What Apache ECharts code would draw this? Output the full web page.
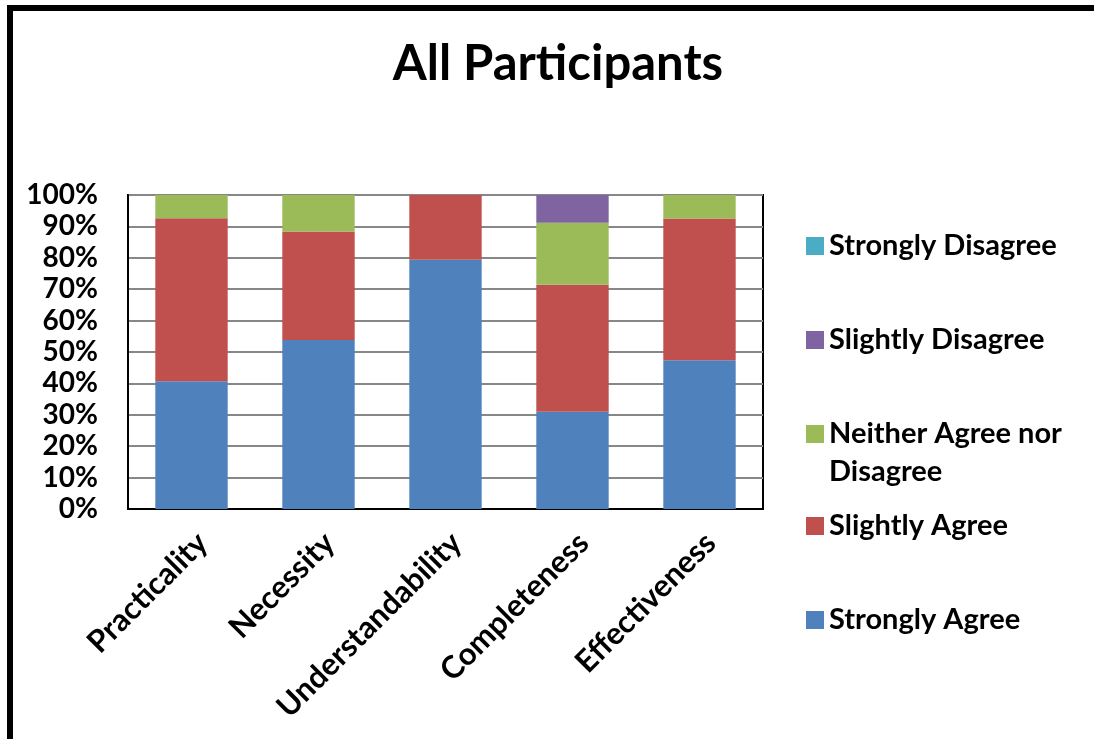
<!DOCTYPE html>
<html>
<head>
<meta charset="utf-8">
<script src="https://cdn.jsdelivr.net/npm/echarts@6/dist/echarts.min.js"></script>
<style>
  html, body { margin: 0; padding: 0; background: #fff; }
  #chart { width: 1094px; height: 739px; }
</style>
</head>
<body>
<div id="chart"></div>
<script>
// Survey responses, percent of participants per criterion
const categories = ['Practicality', 'Necessity', 'Understandability', 'Completeness', 'Effectiveness'];
const stronglyAgree = [40.7, 53.8, 79.4, 31.0, 47.4];
const slightlyAgree = [51.9, 34.6, 20.6, 40.4, 45.1];
const neitherAgreeNorDisagree = [7.4, 11.6, 0, 19.8, 7.5];
const slightlyDisagree = [0, 0, 0, 8.8, 0];
const stronglyDisagree = [0, 0, 0, 0, 0];
const yTicks = [0, 10, 20, 30, 40, 50, 60, 70, 80, 90, 100];

const FONT = 'Lato, "Open Sans", sans-serif';
const colors = {
  'Strongly Agree': '#4F81BD',
  'Slightly Agree': '#C0504D',
  'Neither Agree nor Disagree': '#9BBB59',
  'Slightly Disagree': '#8064A2',
  'Strongly Disagree': '#4BACC6'
};

const seriesDefs = [
  ['Strongly Agree', stronglyAgree],
  ['Slightly Agree', slightlyAgree],
  ['Neither Agree nor Disagree', neitherAgreeNorDisagree],
  ['Slightly Disagree', slightlyDisagree],
  ['Strongly Disagree', stronglyDisagree]
];

const series = seriesDefs.map(([name, values]) => ({
  name,
  type: 'bar',
  stack: 'total',
  barWidth: '57%',
  itemStyle: { color: colors[name] },
  data: values
}));

// Legend entries listed top to bottom, one legend block each so they keep an even pitch.
// The wrapped entry gets a blank first line so its swatch lines up with its first text line.
const legendRows = [
  { name: 'Strongly Disagree', center: 246 },
  { name: 'Slightly Disagree', center: 340 },
  { name: 'Neither Agree nor Disagree', center: 434, lines: 3 },
  { name: 'Slightly Agree', center: 526 },
  { name: 'Strongly Agree', center: 620 }
];
const LH = 38;
const legends = legendRows.map(row => ({
  orient: 'vertical',
  left: 806,
  top: row.center - ((row.lines || 1) * LH) / 2,
  padding: 0,
  itemWidth: 18,
  itemHeight: 18,
  itemGap: 0,
  icon: 'rect',
  selectedMode: false,
  data: [row.name],
  formatter: n => n === 'Neither Agree nor Disagree' ? '\nNeither Agree nor\nDisagree' : n,
  textStyle: {
    fontFamily: FONT,
    fontWeight: 'bold',
    fontSize: 29,
    color: '#000',
    lineHeight: LH
  }
}));

const chart = echarts.init(document.getElementById('chart'), null, { renderer: 'canvas' });
chart.setOption({
  animation: false,
  backgroundColor: '#fff',
  title: {
    text: 'All Participants',
    left: 553,
    textAlign: 'center',
    top: 35,
    textStyle: { fontFamily: FONT, fontWeight: 'bold', fontSize: 49, color: '#000' }
  },
  graphic: [{
    type: 'rect',
    shape: { x: 10, y: 8, width: 2000, height: 2000 },
    style: { fill: 'none', stroke: '#000', lineWidth: 6 },
    silent: true
  }],
  legend: legends,
  grid: {
    left: 128, top: 195, width: 635, height: 314,
    show: true, borderColor: '#000', borderWidth: 2, backgroundColor: 'transparent'
  },
  xAxis: {
    type: 'category',
    data: categories,
    axisLine: { show: true, lineStyle: { color: '#000', width: 2 } },
    axisTick: { show: false },
    axisLabel: {
      rotate: 45,
      margin: 18,
      interval: 0,
      verticalAlign: 'top',
      fontFamily: FONT,
      fontWeight: 'bold',
      fontSize: 31,
      color: '#000'
    }
  },
  yAxis: {
    type: 'value',
    min: 0,
    max: 100,
    interval: 10,
    axisLine: { show: true, lineStyle: { color: '#000', width: 2 } },
    axisTick: { show: false },
    splitLine: { show: true, lineStyle: { color: '#878787', width: 2 } },
    axisLabel: {
      margin: 30,
      fontFamily: FONT,
      fontWeight: 'bold',
      fontSize: 28,
      color: '#000',
      formatter: v => (yTicks.includes(v) ? v + '%' : '')
    }
  },
  series
});
</script>
</body>
</html>
